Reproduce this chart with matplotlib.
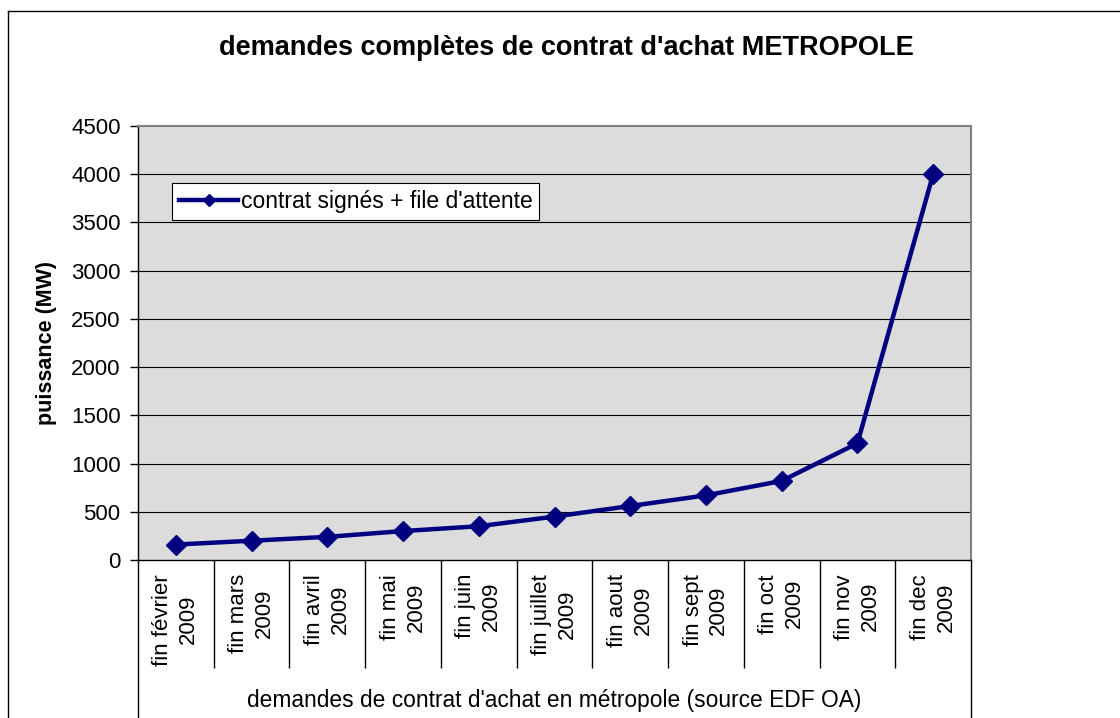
import numpy as np
import matplotlib
matplotlib.use("Agg")
import matplotlib.pyplot as plt
from matplotlib.lines import Line2D

plt.rcParams['font.family'] = ['Liberation Sans', 'DejaVu Sans']

# data
mois = ["fin février\n2009", "fin mars\n2009", "fin avril\n2009", "fin mai\n2009",
        "fin juin\n2009", "fin juillet\n2009", "fin aout\n2009", "fin sept\n2009",
        "fin oct\n2009", "fin nov\n2009", "fin dec\n2009"]
puissance = [160, 200, 240, 300, 350, 450, 560, 670, 820, 1210, 4000]
yticks = [0, 500, 1000, 1500, 2000, 2500, 3000, 3500, 4000, 4500]

W, H = 1120, 718
fig = plt.figure(figsize=(W / 100, H / 100), dpi=100)
fig.patch.set_facecolor("white")

# plot area in pixels: x 138..971, y 126..560
ax = fig.add_axes([138 / W, 1 - 560 / H, (971 - 138) / W, (560 - 126) / H])
ax.set_facecolor("#dcdcdc")

x = np.arange(len(mois))
ax.plot(x, puissance, color="#000080", lw=3.2, marker="D", ms=10,
        label="contrat signés + file d'attente", zorder=3)

ax.set_xlim(-0.5, len(mois) - 0.5)
ax.set_ylim(0, 4500)
ax.set_yticks(yticks)
ax.set_yticklabels([str(v) for v in yticks], fontsize=16)
ax.tick_params(axis="y", direction="out", length=5.5, width=1, pad=7, colors="black")
for v in yticks[1:-1]:
    ax.axhline(v, color="black", lw=0.8, zorder=1)

# category separators as long minor ticks
ax.set_xticks(x)
ax.set_xticklabels([])
ax.tick_params(axis="x", which="major", length=0)
ax.set_xticks(np.arange(0.5, len(mois) - 1, 1.0), minor=True)
ax.tick_params(axis="x", which="minor", direction="out", length=78, width=1, color="black")

for i, lab in enumerate(mois):
    ax.text(i, -14 / 434, lab, transform=ax.get_xaxis_transform(), rotation=90,
            ha="center", va="top", multialignment="center", fontsize=16,
            linespacing=1.3)

for side in ["top", "right"]:
    ax.spines[side].set_color("#808080")
    ax.spines[side].set_linewidth(1.5)
for side in ["left", "bottom"]:
    ax.spines[side].set_color("black")
    ax.spines[side].set_linewidth(1)

# box edges of the category axis
ax.plot([0, 0], [0, -0.5], transform=ax.transAxes, color="black", lw=1, clip_on=False)
ax.plot([1, 1], [0, -0.5], transform=ax.transAxes, color="black", lw=1, clip_on=False)

fig.text(554 / W, 1 - 700 / H, "demandes de contrat d'achat en métropole (source EDF OA)",
         ha="center", va="center", fontsize=16.4)
fig.text(47 / W, 1 - 343 / H, "puissance (MW)", rotation=90, ha="center", va="center",
         fontsize=15.5, fontweight="bold")
fig.text(566 / W, 1 - 48 / H, "demandes complètes de contrat d'achat METROPOLE",
         ha="center", va="center", fontsize=19.5, fontweight="bold")

leg = ax.legend(loc="upper left", bbox_to_anchor=((172 - 138) / 833, 1 - (183 - 126) / 434),
                borderaxespad=0, fontsize=16.5, handlelength=2.6, handletextpad=0.1,
                borderpad=0.3, fancybox=False, framealpha=1, edgecolor="black",
                markerscale=0.6)
leg.get_frame().set_linewidth(0.8)

# outer chart frame
fig.add_artist(Line2D([8 / W, 8 / W], [0, 1 - 11 / H], color="black", lw=1))
fig.add_artist(Line2D([8 / W, 1], [1 - 11 / H, 1 - 11 / H], color="black", lw=1))

fig.savefig("out.png", dpi=100)
